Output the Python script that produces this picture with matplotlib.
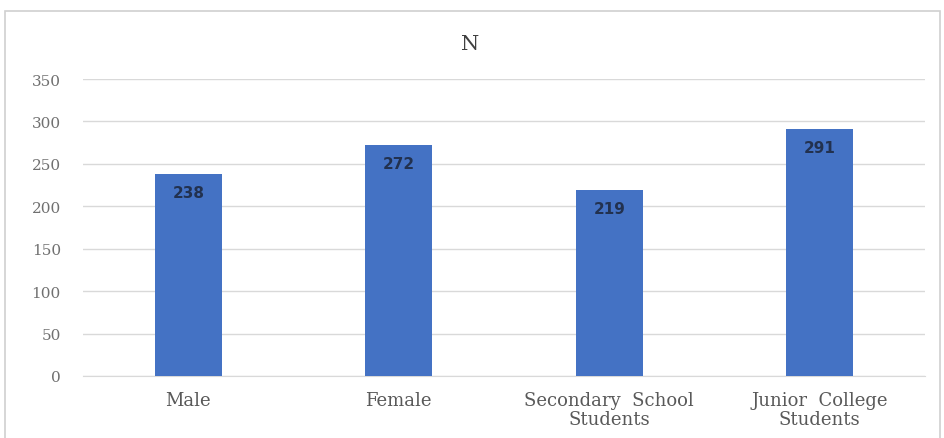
import matplotlib.pyplot as plt
from matplotlib.patches import Rectangle

categories = ["Male", "Female", "Secondary  School\nStudents", "Junior  College\nStudents"]
counts = [238, 272, 219, 291]
y_ticks = [0, 50, 100, 150, 200, 250, 300, 350]

serif = ["DejaVu Serif"]

fig = plt.figure(figsize=(9.44, 4.39), dpi=100)

# chart area border (Excel style)
fig.patches.append(Rectangle((5 / 944, -0.05), 935 / 944, 1.05 - 12 / 439,
                             transform=fig.transFigure, fill=False,
                             edgecolor="#d0d0d0", linewidth=1.2))

ax = fig.add_axes([83 / 944, 1 - 377 / 439, 842 / 944, 297 / 439])
x = range(len(categories))
bars = ax.bar(x, counts, width=0.32, color="#4472C4", zorder=3)

for b, v in zip(bars, counts):
    ax.text(b.get_x() + b.get_width() / 2, v - 13, str(v), ha="center", va="top",
            fontsize=11, fontweight="bold", color="#22314f", zorder=4)

ax.set_xlim(-0.5, len(categories) - 0.5)
ax.set_ylim(0, 350)
ax.set_yticks(y_ticks)
ax.set_xticks(list(x))
ax.set_xticklabels(categories, family=serif, fontsize=13, color="#595959",
                   linespacing=1.05)
for lab in ax.get_yticklabels():
    lab.set_family(serif)
    lab.set_fontsize(11)
    lab.set_color("#707070")

ax.grid(axis="y", color="#d9d9d9", linewidth=1, zorder=0)
for s in ["top", "right", "left"]:
    ax.spines[s].set_visible(False)
ax.spines["bottom"].set_color("#d9d9d9")
ax.tick_params(axis="both", length=0)
ax.tick_params(axis="y", pad=16)
ax.tick_params(axis="x", pad=11)

fig.text(470 / 944, 1 - 45 / 439, "N", ha="center", va="center",
         family=serif, fontsize=15, color="#404040")

fig.savefig("out.png", dpi=100)
